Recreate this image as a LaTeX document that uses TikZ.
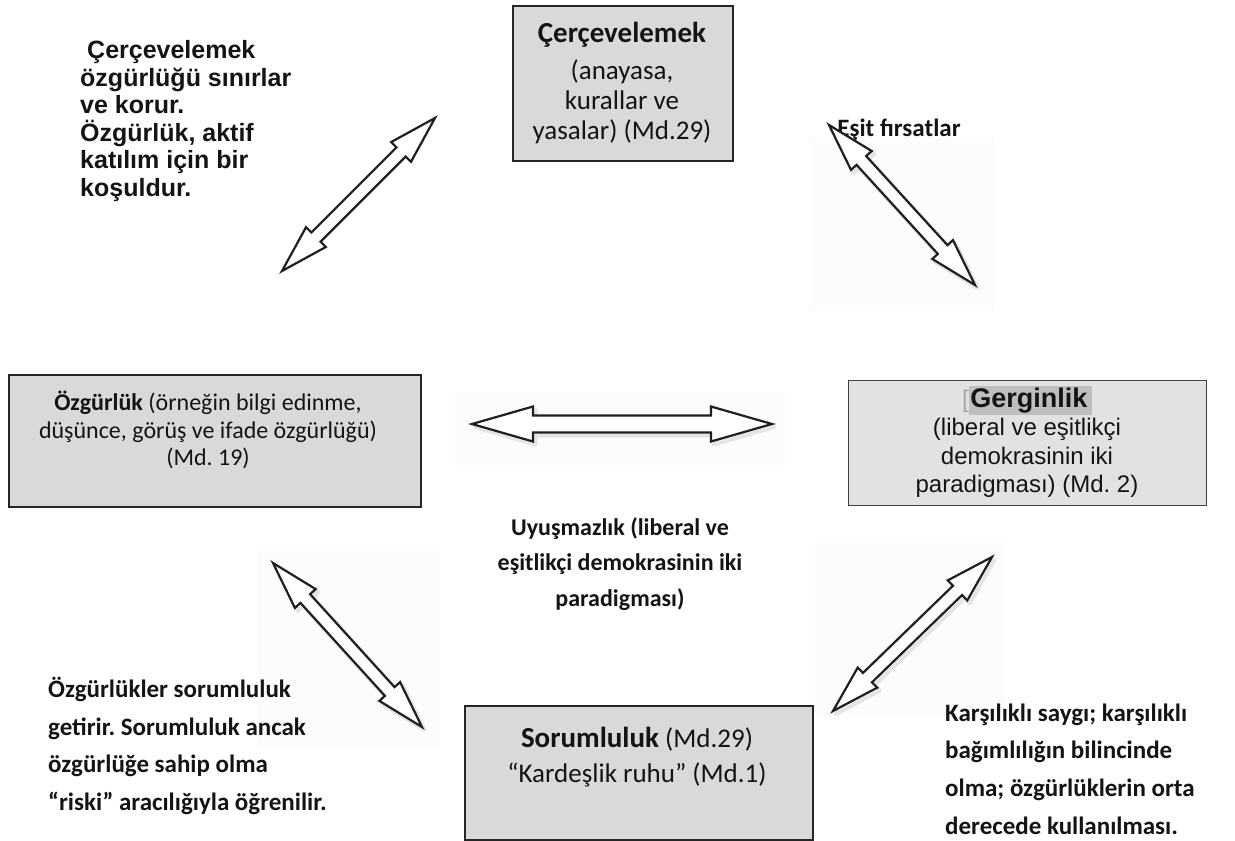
\documentclass[tikz,border=0pt]{standalone}
\usepackage{fontspec}
\setmainfont{Carlito}
\newfontfamily\arialf{Liberation Sans}
\usetikzlibrary{calc}
\frenchspacing
\definecolor{boxgray}{RGB}{217,217,217}
\definecolor{boxgrayb}{RGB}{226,226,226}
\definecolor{hlgray}{RGB}{190,190,190}
\definecolor{txt}{RGB}{20,20,20}
\definecolor{faint}{RGB}{252,252,252}
\setlength{\fboxsep}{1.5pt}
\newcommand{\dblarrow}[6]{%
 \draw[#6] (#1) -- ($(#1)!#3!(#2)!#4!90:(#2)$) -- ($(#1)!#3!(#2)!#5!90:(#2)$)
 -- ($(#2)!#3!(#1)!#5!-90:(#1)$) -- ($(#2)!#3!(#1)!#4!-90:(#1)$) -- (#2)
 -- ($(#2)!#3!(#1)!#4!90:(#1)$) -- ($(#2)!#3!(#1)!#5!90:(#1)$)
 -- ($(#1)!#3!(#2)!#5!-90:(#2)$) -- ($(#1)!#3!(#2)!#4!-90:(#2)$) -- cycle;}
\begin{document}
\begin{tikzpicture}[x=1pt,y=-1pt,
 box/.style={draw=black!85, line width=1.6pt, fill=boxgray, inner sep=0pt, anchor=north west},
 lbl/.style={inner sep=0pt, text=txt},
 arr/.style={draw=black!88, line width=2.2pt, fill=white, line join=miter, miter limit=4},
 arrshadow/.style={draw=black!45, line width=4pt, opacity=.2, line join=round, transform canvas={xshift=2.5pt,yshift=-3pt}}]
\useasboundingbox (0,0) rectangle (1235,841);
\fill[white] (0,0) rectangle (1235,841);
% faint backgrounds behind arrows
\fill[faint] (810,138) rectangle (995,310);
\fill[faint] (455,392) rectangle (785,466);
\fill[faint] (257,550) rectangle (440,747);
\fill[faint] (815,542) rectangle (1005,716);

% boxes
\node[box, minimum width=220pt, minimum height=155pt] (frame) at (512,5) {};
\node[box, minimum width=412pt, minimum height=132pt] (free) at (8,374) {};
\node[box, draw=black!75, line width=1pt, fill=boxgrayb, minimum width=358pt, minimum height=125pt] (tens) at (848,380) {};
\node[box, minimum width=348pt, minimum height=134pt] (resp) at (464,705) {};

% box texts
\node[lbl, align=center, font=\fontsize{27}{30}\selectfont] (frameT) at (622,83)
 {{\fontsize{29}{29}\selectfont\bfseries Çerçevelemek}\\[7pt](anayasa,\\kurallar ve\\yasalar) (Md.29)};
\node[lbl, align=center, font=\fontsize{24}{27.5}\selectfont] (freeT) at (208,430)
 {\textbf{Özgürlük} (örneğin bilgi edinme,\\düşünce, görüş ve ifade özgürlüğü)\\(Md. 19)};
\node[lbl, align=center, font=\arialf\fontsize{24}{28.5}\selectfont] (tensT) at (1027,442)
 {{\color{black!35}[}\colorbox{hlgray}{\fontsize{27}{27}\selectfont\bfseries Gerginlik\hspace{3pt}}\\(liberal ve eşitlikçi\\demokrasinin iki\\paradigması) (Md. 2)};
\node[lbl, align=center, font=\fontsize{27}{35}\selectfont] (respT) at (637,757)
 {{\fontsize{29}{29}\selectfont\bfseries Sorumluluk} (Md.29)\\“Kardeşlik ruhu” (Md.1)};

% free labels
\node[lbl, anchor=west, align=left, font=\arialf\bfseries\fontsize{25}{27.5}\selectfont] (noteTL) at (80,121)
 {\hspace{7pt}Çerçevelemek\\özgürlüğü sınırlar\\ve korur.\\Özgürlük, aktif\\katılım için bir\\koşuldur.};
\node[lbl, font=\bfseries\fontsize{25}{25}\selectfont] (noteTR) at (899,130) {Eşit fırsatlar};
\node[lbl, align=center, font=\bfseries\fontsize{24}{35.5}\selectfont] (noteMid) at (620,564)
 {Uyuşmazlık (liberal ve\\eşitlikçi demokrasinin iki\\paradigması)};
\node[lbl, anchor=west, align=left, font=\bfseries\fontsize{25}{37.7}\selectfont] (noteBL) at (48,746)
 {Özgürlükler sorumluluk\\getirir. Sorumluluk ancak\\özgürlüğe sahip olma\\“riski” aracılığıyla öğrenilir.};
\node[lbl, anchor=west, align=left, font=\bfseries\fontsize{25}{37.7}\selectfont] (noteBR) at (945,769)
 {Karşılıklı saygı; karşılıklı\\bağımlılığın bilincinde\\olma; özgürlüklerin orta\\derecede kullanılması.};

% arrow end points
\coordinate (a1s) at (282,271); \coordinate (a1e) at (435,118);
\coordinate (a2s) at (829,125); \coordinate (a2e) at (975,285);
\coordinate (a3s) at (273,563); \coordinate (a3e) at (422,727);
\coordinate (a4s) at (833,711); \coordinate (a4e) at (992,557);
\coordinate (a5s) at (472,424); \coordinate (a5e) at (772,424);

% shadows
\dblarrow{a2s}{a2e}{48pt}{14pt}{6.5pt}{arrshadow}
\dblarrow{a3s}{a3e}{48pt}{14pt}{6.5pt}{arrshadow}
\dblarrow{a4s}{a4e}{48pt}{14pt}{6.5pt}{arrshadow}
\dblarrow{a5s}{a5e}{61pt}{17.5pt}{8.5pt}{arrshadow}
% arrows
\dblarrow{a1s}{a1e}{48pt}{14pt}{6.5pt}{arr}
\dblarrow{a2s}{a2e}{48pt}{14pt}{6.5pt}{arr}
\dblarrow{a3s}{a3e}{48pt}{14pt}{6.5pt}{arr}
\dblarrow{a4s}{a4e}{48pt}{14pt}{6.5pt}{arr}
\dblarrow{a5s}{a5e}{61pt}{17.5pt}{8.5pt}{arr}
\end{tikzpicture}
\end{document}
